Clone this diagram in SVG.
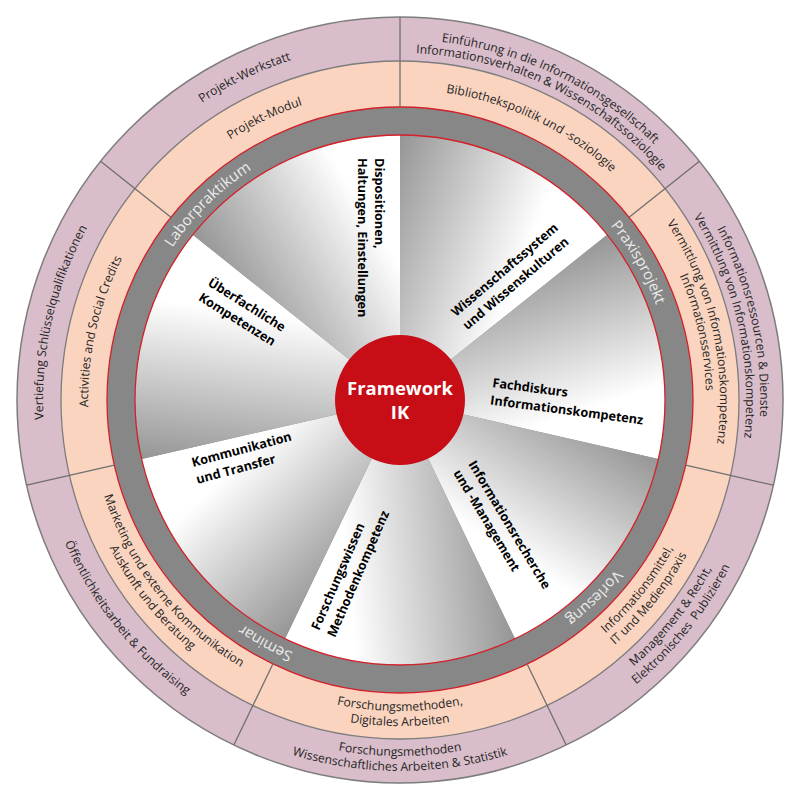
<svg xmlns="http://www.w3.org/2000/svg" width="800" height="800" viewBox="0 0 800 800">
<defs>
<style>
.t{font-family:"Open Sans","Noto Sans",sans-serif}
.o{font-size:12.2px;fill:#262626}
.g{font-size:15px;fill:#ececec}
.b{font-size:12.7px;font-weight:bold;fill:#000}
.c{font-size:18.5px;font-weight:bold;fill:#fff}
.dv{stroke:#6f6f6f;stroke-width:1.3;fill:none}
</style>
<linearGradient id="sg" gradientUnits="userSpaceOnUse" x1="129.7" y1="47.2" x2="-85.5" y2="-31.1">
<stop offset="0" stop-color="#ffffff"/><stop offset="0.3" stop-color="#ffffff"/><stop offset="1" stop-color="#959595"/>
</linearGradient>
<path id="sec" d="M0,0 L0,-265 A265,265 0 0 1 207.19,-165.22 Z" fill="url(#sg)"/>
<path id="pA1" d="M73.85,242.94 A362,362 0 0 1 726.15,557.06"/>
<path id="pA2" d="M87.36,249.44 A347,347 0 0 1 712.64,550.56"/>
<path id="pB1" d="M319.45,47.08 A362,362 0 0 1 480.55,752.92"/>
<path id="pB2" d="M322.79,61.70 A347,347 0 0 1 477.21,738.30"/>
<path id="pC1" d="M178.04,678.33 A356,356 0 0 0 621.96,121.67"/>
<path id="pC2" d="M168.69,690.06 A371,371 0 0 0 631.31,109.94"/>
<path id="pD1" d="M44,400 A356,356 0 0 0 756,400"/>
<path id="pD2" d="M29,400 A371,371 0 0 0 771,400"/>
<path id="pE" d="M172.43,114.63 A365,365 0 0 0 627.57,685.37"/>
<path id="pF" d="M320.56,748.05 A357,357 0 0 1 479.44,51.95"/>
<path id="pG" d="M78.35,554.89 A357,357 0 0 1 721.65,245.11"/>
<path id="pa" d="M118.90,264.63 A312,312 0 0 1 681.10,535.37"/>
<path id="pb1" d="M328.57,87.05 A321,321 0 0 1 471.43,712.95"/>
<path id="pb2" d="M331.91,101.67 A306,306 0 0 1 468.09,698.33"/>
<path id="pc1" d="M206.09,643.15 A311,311 0 0 0 593.91,156.85"/>
<path id="pc2" d="M196.74,654.88 A326,326 0 0 0 603.26,145.12"/>
<path id="pd1" d="M89,400 A311,311 0 0 0 711,400"/>
<path id="pd2" d="M74,400 A326,326 0 0 0 726,400"/>
<path id="pe1" d="M206.09,156.85 A311,311 0 0 0 593.91,643.15"/>
<path id="pe2" d="M196.74,145.12 A326,326 0 0 0 603.26,654.88"/>
<path id="pf" d="M330.57,704.18 A312,312 0 0 1 469.43,95.82"/>
<path id="pg" d="M118.90,535.37 A312,312 0 0 1 681.10,264.63"/>
<path id="gL" d="M204.57,592.05 A274,274 0 0 1 595.43,207.95"/>
<path id="gP" d="M263,162.71 A274,274 0 0 1 537,637.29"/>
<path id="gV" d="M595.43,207.95 A274,274 0 0 1 204.57,592.05"/>
<path id="gS" d="M639.65,532.84 A274,274 0 0 1 160.35,267.16"/>
</defs>
<rect width="800" height="800" fill="#ffffff"/>
<g id="rings">
<circle cx="400" cy="400" r="383" fill="#d9bdca" stroke="#7d7d7d" stroke-width="1.5"/>
<circle cx="400" cy="400" r="339" fill="#fad4bf" stroke="#7d7d7d" stroke-width="1.3"/>
<circle cx="400" cy="400" r="293" fill="#878787" stroke="#d3202a" stroke-width="1.3"/>
</g>
<g id="sectors">
<use href="#sec" transform="translate(400 400)"/>
<use href="#sec" transform="translate(400 400) rotate(51.4286)"/>
<use href="#sec" transform="translate(400 400) rotate(102.8571)"/>
<use href="#sec" transform="translate(400 400) rotate(154.2857)"/>
<use href="#sec" transform="translate(400 400) rotate(205.7143)"/>
<use href="#sec" transform="translate(400 400) rotate(257.1429)"/>
<use href="#sec" transform="translate(400 400) rotate(308.5714)"/>
<circle cx="400" cy="400" r="265" fill="none" stroke="#d3202a" stroke-width="1.3"/>
</g>
<g id="connectors">
<line class="dv" x1="400" y1="107" x2="400" y2="17"/>
<line class="dv" x1="629.08" y1="217.32" x2="699.44" y2="161.20"/>
<line class="dv" x1="685.65" y1="465.20" x2="773.40" y2="485.22"/>
<line class="dv" x1="527.13" y1="663.98" x2="566.18" y2="745.07"/>
<line class="dv" x1="272.87" y1="663.98" x2="233.82" y2="745.07"/>
<line class="dv" x1="114.35" y1="465.20" x2="26.60" y2="485.22"/>
<line class="dv" x1="170.92" y1="217.32" x2="100.56" y2="161.20"/>
</g>
<g id="outer-1"><text class="t o"><textPath href="#pA1" startOffset="50%" text-anchor="middle">Einführung in die Informationsgesellschaft</textPath></text><text class="t o"><textPath href="#pA2" startOffset="50%" text-anchor="middle">Informationsverhalten &amp; Wissenschaftssoziologie</textPath></text></g>
<g id="outer-2"><text class="t o"><textPath href="#pB1" startOffset="50%" text-anchor="middle">Informationsressourcen &amp; Dienste</textPath></text><text class="t o"><textPath href="#pB2" startOffset="50%" text-anchor="middle">Vermittlung von Informationskompetenz</textPath></text></g>
<g id="outer-3"><text class="t o"><textPath href="#pC1" startOffset="50%" text-anchor="middle">Management &amp; Recht,</textPath></text><text class="t o" xml:space="preserve"><textPath href="#pC2" startOffset="50%" text-anchor="middle">Elektronisches  Publizieren</textPath></text></g>
<g id="outer-4"><text class="t o"><textPath href="#pD1" startOffset="50%" text-anchor="middle">Forschungsmethoden</textPath></text><text class="t o"><textPath href="#pD2" startOffset="50%" text-anchor="middle">Wissenschaftliches Arbeiten &amp; Statistik</textPath></text></g>
<g id="outer-5"><text class="t o"><textPath href="#pE" startOffset="50%" text-anchor="middle">Öffentlichkeitsarbeit &amp; Fundraising</textPath></text></g>
<g id="outer-6"><text class="t o"><textPath href="#pF" startOffset="50%" text-anchor="middle">Vertiefung Schlüsselqualifikationen</textPath></text></g>
<g id="outer-7"><text class="t o"><textPath href="#pG" startOffset="50%" text-anchor="middle">Projekt-Werkstatt</textPath></text></g>
<g id="mid-1"><text class="t o"><textPath href="#pa" startOffset="50%" text-anchor="middle">Bibliothekspolitik und -soziologie</textPath></text></g>
<g id="mid-2"><text class="t o"><textPath href="#pb1" startOffset="50%" text-anchor="middle">Vermittlung von Informationskompetenz</textPath></text><text class="t o"><textPath href="#pb2" startOffset="50%" text-anchor="middle">Informationsservices</textPath></text></g>
<g id="mid-3"><text class="t o"><textPath href="#pc1" startOffset="50%" text-anchor="middle">Informationsmittel,</textPath></text><text class="t o"><textPath href="#pc2" startOffset="50%" text-anchor="middle">IT und Medienpraxis</textPath></text></g>
<g id="mid-4"><text class="t o"><textPath href="#pd1" startOffset="50%" text-anchor="middle">Forschungsmethoden,</textPath></text><text class="t o"><textPath href="#pd2" startOffset="50%" text-anchor="middle">Digitales Arbeiten</textPath></text></g>
<g id="mid-5"><text class="t o"><textPath href="#pe1" startOffset="50%" text-anchor="middle">Marketing und externe Kommunikation</textPath></text><text class="t o"><textPath href="#pe2" startOffset="50%" text-anchor="middle">Auskunft und Beratung</textPath></text></g>
<g id="mid-6"><text class="t o"><textPath href="#pf" startOffset="50%" text-anchor="middle">Activities and Social Credits</textPath></text></g>
<g id="mid-7"><text class="t o"><textPath href="#pg" startOffset="50%" text-anchor="middle">Projekt-Modul</textPath></text></g>
<g id="format-laborpraktikum"><text class="t g"><textPath href="#gL" startOffset="50%" text-anchor="middle">Laborpraktikum</textPath></text></g>
<g id="format-praxisprojekt"><text class="t g"><textPath href="#gP" startOffset="50%" text-anchor="middle">Praxisprojekt</textPath></text></g>
<g id="format-vorlesung"><text class="t g"><textPath href="#gV" startOffset="50%" text-anchor="middle">Vorlesung</textPath></text></g>
<g id="format-seminar"><text class="t g"><textPath href="#gS" startOffset="50%" text-anchor="middle">Seminar</textPath></text></g>
<g id="sec-dispositionen"><text class="t b" transform="translate(375,158) rotate(90)"><tspan x="0" y="0">Dispositionen,</tspan><tspan x="0" y="17.5">Haltungen, Einstellungen</tspan></text></g>
<g id="sec-wissenschaftssystem"><text class="t b" transform="translate(456,317) rotate(-40.5)"><tspan x="0" y="0">Wissenschaftssystem</tspan><tspan x="0" y="17.5">und Wissenskulturen</tspan></text></g>
<g id="sec-fachdiskurs"><text class="t b" transform="translate(492,387) rotate(7.5)"><tspan x="0" y="0">Fachdiskurs</tspan><tspan x="0" y="17.5">Informationskompetenz</tspan></text></g>
<g id="sec-informationsrecherche"><text class="t b" transform="translate(468,464) rotate(59)"><tspan x="0" y="0">Informationsrecherche</tspan><tspan x="0" y="17.5">und -Management</tspan></text></g>
<g id="sec-forschungswissen"><text class="t b" transform="translate(319,631) rotate(-66.5)"><tspan x="0" y="0">Forschungswissen</tspan><tspan x="0" y="17.5">Methodenkompetenz</tspan></text></g>
<g id="sec-kommunikation"><text class="t b" transform="translate(193,467) rotate(-15)"><tspan x="0" y="0">Kommunikation</tspan><tspan x="0" y="17.5">und Transfer</tspan></text></g>
<g id="sec-ueberfachliche"><text class="t b" transform="translate(207,285) rotate(32)"><tspan x="0" y="0">Überfachliche</tspan><tspan x="0" y="17.5">Kompetenzen</tspan></text></g>
<g id="center">
<circle cx="400" cy="400" r="65" fill="#c70d15"/>
<text class="t c" x="400" y="394.5" text-anchor="middle">Framework</text>
<text class="t c" x="400" y="419" text-anchor="middle">IK</text>
</g>
</svg>
